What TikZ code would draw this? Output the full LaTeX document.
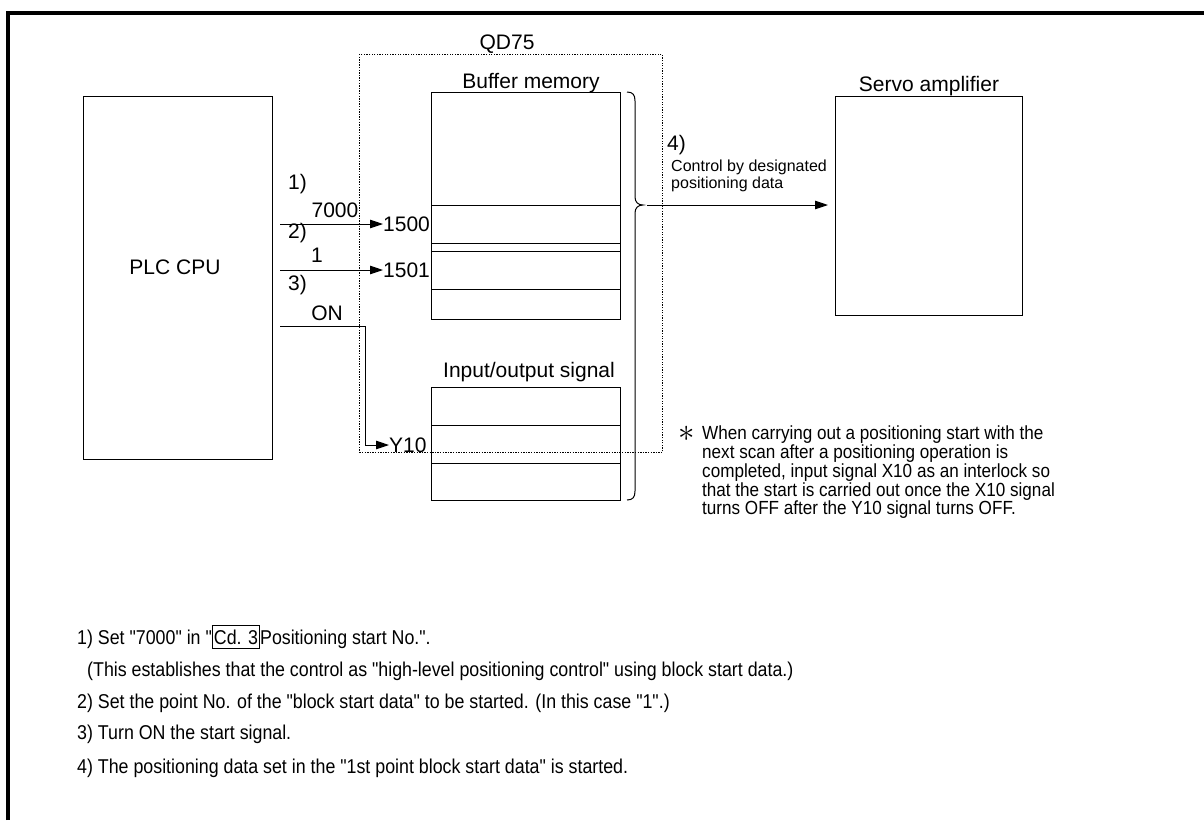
\documentclass[tikz,border=0pt]{standalone}
\usepackage{fontspec}
\setmainfont{Liberation Sans}
\newfontfamily\nfont[FakeStretch=0.9]{Liberation Sans}
\newfontfamily\ffont[FakeStretch=0.89]{Liberation Sans}
\usetikzlibrary{arrows.meta}
\newcommand\cdframe[1]{{\fboxsep=1pt\fboxrule=1pt\fbox{\rule[-3pt]{0pt}{20pt}#1}}}
\begin{document}
\begin{tikzpicture}[x=1pt,y=-1pt,
  box/.style={draw, line width=1pt, inner sep=0pt, anchor=north west},
  lbl/.style={inner sep=0pt, font=\fontsize{21}{25}\selectfont},
  small/.style={inner sep=0pt, font=\fontsize{16}{19}\selectfont},
  note/.style={inner sep=0pt, anchor=base west, font=\nfont\fontsize{19}{19}\selectfont},
  foot/.style={inner sep=0pt, anchor=base west, font=\ffont\fontsize{20}{24}\selectfont},
  arr/.style={line width=1pt, -{Triangle[length=13pt,width=8.5pt]}},
  wire/.style={line width=1pt}]
\useasboundingbox (0,0) rectangle (1204,820);
% frame
\draw[line width=4pt] (8,820) -- (8,13) -- (1204,13);
% PLC CPU
\node[box, minimum width=189pt, minimum height=363pt] (plc) at (83,96) {};
\node[lbl, anchor=base] (plct) at (175,274) {PLC CPU};
% QD75
\node[box, line width=0.9pt, dash pattern=on 1.3pt off 1.3pt, minimum width=303pt, minimum height=398pt] (qd) at (359,54) {};
\node[lbl, anchor=base] (qdt) at (507,49) {QD75};
% Buffer memory
\node[box, minimum width=189pt, minimum height=227pt] (buf) at (431,92) {};
\node[lbl, anchor=base] (buft) at (531,88) {Buffer memory};
\draw[wire] (431,205) -- (620,205);
\draw[wire] (431,243) -- (620,243);
\draw[wire] (431,251) -- (620,251);
\draw[wire] (431,289) -- (620,289);
% I/O signal
\node[box, minimum width=189pt, minimum height=113pt] (io) at (431,387) {};
\node[lbl, anchor=base] (iot) at (529,377) {Input/output signal};
\draw[wire] (431,425) -- (620,425);
\draw[wire] (431,463) -- (620,463);
% Servo
\node[box, minimum width=187pt, minimum height=219pt] (servo) at (835,96) {};
\node[lbl, anchor=base] (servot) at (929,91) {Servo amplifier};
% brace
\coordinate (btip) at (643,205);
\draw[wire] (627,92) .. controls (633,92) and (635,95) .. (635,101) -- (635,197)
  .. controls (635,202) and (638,205) .. (btip)
  .. controls (638,205) and (635,208) .. (635,213) -- (635,491)
  .. controls (635,497) and (633,500) .. (627,500);
% arrow labels
\node[lbl, anchor=base west] (n1) at (288,189) {1)};
\node[lbl, anchor=base] (v7000) at (335,217) {7000};
\node[lbl, anchor=base west] (n2) at (288,238) {2)};
\node[lbl, anchor=base] (v1) at (317,262) {1};
\node[lbl, anchor=base west] (n3) at (288,290) {3)};
\node[lbl, anchor=base] (von) at (327,320) {ON};
\node[lbl, anchor=west] (a1500) at (383,224) {1500};
\node[lbl, anchor=west] (a1501) at (383,270) {1501};
\node[lbl, anchor=west] (ay10) at (389,445) {Y10};
% arrows
\coordinate (s1) at (280,224);
\coordinate (s2) at (280,270);
\coordinate (s3) at (280,326);
\coordinate (k3) at (365,326);
\draw[arr] (s1) -- (a1500.west);
\draw[arr] (s2) -- (a1501.west);
\draw[arr] (s3) -- (k3) |- (ay10.west);
\draw[arr] ([xshift=4pt]btip) -- ([xshift=-7pt]servo.west |- btip);
% 4)
\node[lbl, anchor=base west] (n4) at (667,150) {4)};
\node[small, anchor=base west] (c4a) at (671,171) {Control by designated};
\node[small, anchor=base west] (c4b) at (671,188) {positioning data};
% note
\node[inner sep=0pt] (ast) at (687,434) {\fontsize{19}{19}\selectfont\scalebox{1.9}{$\ast$}};
\node[note] (nt1) at (702,439) {When carrying out a positioning start with the};
\node[note] (nt2) at (702,458) {next scan after a positioning operation is};
\node[note] (nt3) at (702,477) {completed, input signal X10 as an interlock so};
\node[note] (nt4) at (702,496) {that the start is carried out once the X10 signal};
\node[note] (nt5) at (702,514) {turns OFF after the Y10 signal turns OFF.};
% footer
\node[foot] (f1) at (77,644) {1) Set "7000" in "\cdframe{Cd. 3}Positioning start No.".};
\node[foot] (f2) at (87,676) {(This establishes that the control as "high-level positioning control" using block start data.)};
\node[foot] (f3) at (77,708) {2) Set the point No. of the "block start data" to be started. (In this case "1".)};
\node[foot] (f4) at (77,739) {3) Turn ON the start signal.};
\node[foot] (f5) at (77,773) {4) The positioning data set in the "1st point block start data" is started.};
\end{tikzpicture}
\end{document}
